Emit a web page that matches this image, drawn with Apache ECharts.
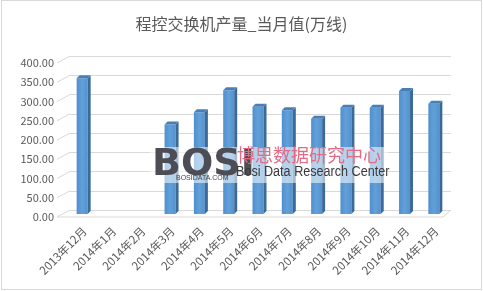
<!DOCTYPE html>
<html><head><meta charset="utf-8">
<script src="https://cdn.jsdelivr.net/npm/echarts@6/dist/echarts.min.js"></script>
<style>
html,body{margin:0;padding:0;background:#fff;}
#c{position:absolute;left:0;top:0;width:483px;height:291px;}
#frame{position:absolute;left:1px;top:0px;width:479px;height:288px;border:1px solid #d9d9d9;pointer-events:none;}
</style></head>
<body><div id="c"></div><div id="frame"></div>
<script>
const categories = ['2013年12月','2014年1月','2014年2月','2014年3月','2014年4月','2014年5月','2014年6月','2014年7月','2014年8月','2014年9月','2014年10月','2014年11月','2014年12月'];
const values = [351, null, null, 231, 263, 320, 277, 268, 246, 275, 275, 318, 285];
const yTicks = [0, 50, 100, 150, 200, 250, 300, 350, 400];
const titleText = '程控交换机产量_当月值(万线)';

const chart = echarts.init(document.getElementById('c'), null, {renderer:'canvas'});
const barData = values.map((v,i)=>[i,v]);
const FONT = '"Microsoft YaHei","Noto Sans CJK SC",sans-serif';

chart.setOption({
  animation:false,
  backgroundColor:'#fff',
  title:{text:titleText,left:'center',top:11,textStyle:{fontFamily:FONT,fontSize:16,fontWeight:'normal',color:'#595959'}},
  grid:{left:70,right:32,top:56,bottom:81},
  xAxis:{type:'category',data:categories,boundaryGap:true,
    axisLine:{show:false},axisTick:{show:false},
    axisLabel:{rotate:45,margin:19,fontSize:11.5,color:'#595959',fontFamily:FONT,interval:0}},
  yAxis:{type:'value',min:0,max:400,interval:50,
    axisLine:{show:false},axisTick:{show:false},
    splitLine:{lineStyle:{color:'#d9d9d9',width:1}},
    axisLabel:{margin:16,fontSize:11,color:'#595959',fontFamily:FONT,verticalAlign:'top',lineHeight:14,
      formatter:v=>v.toFixed(2)}},
  series:[
    {type:'custom',name:'wall',data:yTicks.map(t=>[0,t]),silent:true,z:1,
      renderItem:(params,api)=>{
        const p=api.coord([0,api.value(1)]);
        const gl=params.coordSys.x;
        return {type:'line',shape:{x1:gl-13,y1:p[1]+7,x2:gl,y2:p[1]},style:{stroke:'#d9d9d9',lineWidth:1}};
      }},
    {type:'custom',name:'floor',data:[[0,0]],silent:true,z:1,
      renderItem:(params,api)=>{
        const p=api.coord([0,0]);
        const cs=params.coordSys;
        return {type:'polyline',shape:{points:[[cs.x-13,p[1]+7],[cs.x+cs.width-8,p[1]+7],[cs.x+cs.width,p[1]]]},style:{stroke:'#d9d9d9',fill:null,lineWidth:1}};
      }},
    {type:'custom',name:'产量',data:barData,z:3,
      renderItem:(params,api)=>{
        const v=api.value(1);
        if(v==null||isNaN(v)) return;
        const top=api.coord([api.value(0),v]);
        const base=api.coord([api.value(0),0]);
        const cx=top[0];
        const w=11, d=3;
        const x0=cx-8, x1=x0+w;
        const yt=top[1]+3.5, yb=base[1]+4;
        return {type:'group',children:[
          {type:'rect',shape:{x:x0,y:yt,width:w,height:yb-yt},
            style:{fill:new echarts.graphic.LinearGradient(0,0,1,0,[{offset:0,color:'#4f8fcf'},{offset:0.5,color:'#62a0d9'},{offset:1,color:'#5592cd'}])}},
          {type:'polygon',shape:{points:[[x1,yt],[x1+d,yt-d],[x1+d,yb-d],[x1,yb]]},style:{fill:'#3b6a99'}},
          {type:'polygon',shape:{points:[[x0,yt],[x1,yt],[x1+d,yt-d],[x0+d,yt-d]]},style:{fill:'#4a7fb6'}}
        ]};
      }}
  ],
  graphic:[
    {type:'rect',left:150,top:147,shape:{width:238,height:36},style:{fill:'rgba(255,255,255,0.55)'},z:10,silent:true},
    {type:'text',left:152,top:146,style:{text:'BOSI',font:'bold 38px "DejaVu Sans",sans-serif',fill:'#4d4d55'},z:11},
    {type:'text',left:176,top:175,style:{text:'BOSIDATA.COM',font:'7px sans-serif',fill:'#444'},z:11},
    {type:'text',left:237,top:146,style:{text:'博思数据研究中心',font:'18px "Noto Sans CJK SC",sans-serif',fill:'#e46a85'},z:11},
    {type:'text',x:236,y:165,scaleX:0.9,style:{text:'Bosi Data Research Center',font:'14px "Liberation Sans","Roboto",sans-serif',fill:'#3a3a3a'},z:11}
  ]
});
</script></body></html>
